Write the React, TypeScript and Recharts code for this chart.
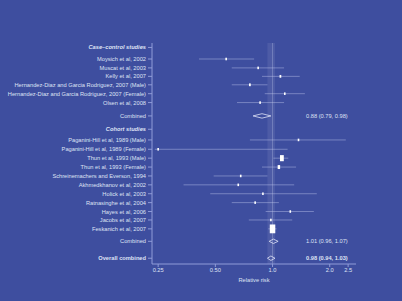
import React from "react";
import {
  ScatterChart,
  Scatter,
  XAxis,
  YAxis,
  ErrorBar,
  ReferenceLine,
  ReferenceArea,
} from "recharts";

// ---- data ----
const headerLabels = ["Case\u2013control studies", "Cohort studies"];
const headerRows = [0, 9.2];

const studyLabels = [
  "Moysich et al, 2002",
  "Muscat et al, 2003",
  "Kelly et al, 2007",
  "Hernandez-Diaz and Garcia Rodriguez, 2007 (Male)",
  "Hernandez-Diaz and Garcia Rodriguez, 2007 (Female)",
  "Olsen et al, 2008",
  "Paganini-Hill et al, 1989 (Male)",
  "Paganini-Hill et al, 1989 (Female)",
  "Thun et al, 1993 (Male)",
  "Thun et al, 1993 (Female)",
  "Schreinemachers and Everson, 1994",
  "Akhmedkhanov et al, 2002",
  "Holick et al, 2003",
  "Ratnasinghe et al, 2004",
  "Hayes et al, 2006",
  "Jacobs et al, 2007",
  "Feskanich et al, 2007",
];
const studyRows = [1.3, 2.3, 3.25, 4.2, 5.2, 6.2, 10.4, 11.45, 12.45, 13.45, 14.45, 15.45, 16.45, 17.45, 18.45, 19.4, 20.4];
const studyRR = [0.57, 0.84, 1.1, 0.76, 1.16, 0.86, 1.37, 0.25, 1.12, 1.08, 0.68, 0.66, 0.89, 0.81, 1.24, 0.98, 1.0];
const studyLow = [0.41, 0.61, 0.88, 0.61, 0.91, 0.65, 0.76, 0.24, 1.01, 0.88, 0.49, 0.34, 0.47, 0.61, 0.92, 0.75, 0.95];
const studyHigh = [0.8, 1.15, 1.39, 0.94, 1.48, 1.15, 2.43, 1.2, 1.21, 1.33, 0.94, 1.3, 1.71, 1.08, 1.65, 1.27, 1.05];
const studyWeight = [1.2, 1.5, 2.5, 2.5, 2.0, 1.5, 0.5, 0.4, 12, 5, 1.5, 0.4, 0.8, 2.0, 1.6, 1.2, 25];

const summaryLabels = ["Combined", "Combined", "Overall combined"];
const summaryRows = [7.7, 21.8, 23.7];
const summaryRR = [0.88, 1.01, 0.98];
const summaryLow = [0.79, 0.96, 0.94];
const summaryHigh = [0.98, 1.07, 1.03];

const xTicks = [0.25, 0.5, 1, 2, 2.5];
const xTickLabels = ["0.25", "0.50", "1.0", "2.0", "2.5"];
const xDomain = [0.232, 2.75];
const yDomain = [-0.5, 24.35];
const LABEL_X = 1.5;

// ---- styles ----
const BG = "#3e4e9f";
const TEXT = "#dfe3f4";
const AXIS = "#8f9bd8";
const FONT = "Liberation Sans, Arial, sans-serif";
const FS = 5.7;

const studyData = studyLabels.map((name, i) => ({
  name,
  x: studyRR[i],
  y: studyRows[i],
  err: [studyRR[i] - studyLow[i], studyHigh[i] - studyRR[i]],
  weight: studyWeight[i],
}));

const yLabelMap: { row: number; text: string; kind: string }[] = [
  ...headerLabels.map((t, i) => ({ row: headerRows[i], text: t, kind: "header" })),
  ...studyLabels.map((t, i) => ({ row: studyRows[i], text: t, kind: "study" })),
  ...summaryLabels.map((t, i) => ({
    row: summaryRows[i],
    text: t,
    kind: i === summaryLabels.length - 1 ? "overall" : "summary",
  })),
].sort((a, b) => a.row - b.row);

const yTicks = yLabelMap.map((d) => d.row);

const YTick = (props: any) => {
  const { x, y, payload } = props;
  const item = yLabelMap.find((d) => Math.abs(d.row - payload.value) < 1e-6);
  if (!item) return null;
  const bold = item.kind === "header" || item.kind === "overall";
  const italic = item.kind === "header";
  return (
    <text
      x={x}
      y={y}
      dy="0.35em"
      textAnchor="end"
      fill={TEXT}
      fontSize={FS}
      fontFamily={FONT}
      fontWeight={bold ? "bold" : "normal"}
      fontStyle={italic ? "italic" : "normal"}
    >
      {item.text}
    </text>
  );
};

const SquareShape = (props: any) => {
  const { cx, cy, payload } = props;
  const w = Math.max(1.6, 1.1 * Math.sqrt(payload.weight));
  const h = w * 1.6;
  return <rect x={cx - w / 2} y={cy - h / 2} width={w} height={h} fill="#ffffff" />;
};

const TextShape = (props: any) => {
  const { cx, cy, payload } = props;
  return (
    <text
      x={cx}
      y={cy}
      dy="0.35em"
      textAnchor="start"
      fill={TEXT}
      fontSize={FS}
      fontFamily={FONT}
      fontWeight={payload.bold ? "bold" : "normal"}
    >
      {payload.text}
    </text>
  );
};

const NoShape = () => <g />;

export default function App() {
  const summaryTextData = summaryRows.map((r, i) => ({
    x: LABEL_X,
    y: r,
    text: `${summaryRR[i].toFixed(2)} (${summaryLow[i].toFixed(2)}, ${summaryHigh[i].toFixed(2)})`,
    bold: i === summaryRows.length - 1,
  }));

  return (
    <div style={{ position: "absolute", left: 0, top: 0, width: 402, height: 301, background: BG }}>
      <ScatterChart width={402} height={301} margin={{ top: 43, right: 46, bottom: 0, left: 0 }}>
        <XAxis
          type="number"
          dataKey="x"
          scale="log"
          domain={xDomain}
          allowDataOverflow
          ticks={xTicks}
          interval={0}
          tickFormatter={(v: number) => xTickLabels[xTicks.indexOf(v)] ?? String(v)}
          tick={{ fill: TEXT, fontSize: FS, fontFamily: FONT }}
          stroke={AXIS}
          tickSize={3}
          tickMargin={1}
          height={37}
          label={{ value: "Relative risk", position: "insideBottom", offset: 19, fill: TEXT, fontSize: FS, fontFamily: FONT }}
        />
        <YAxis
          type="number"
          dataKey="y"
          reversed
          domain={yDomain}
          allowDataOverflow
          ticks={yTicks}
          interval={0}
          width={152}
          tick={<YTick />}
          stroke={AXIS}
          tickSize={4}
          tickMargin={2}
        />
        <ReferenceArea x1={0.94} x2={1.03} fill="#ffffff" fillOpacity={0.08} stroke="none" ifOverflow="hidden" />
        <ReferenceLine x={1} stroke="#c8cff0" strokeOpacity={0.3} strokeWidth={1} />
        <Scatter data={studyData} shape={<SquareShape />} isAnimationActive={false}>
          <ErrorBar dataKey="err" direction="x" width={0} stroke="#c3caee" strokeOpacity={0.55} strokeWidth={0.8} isAnimationActive={false} />
        </Scatter>
        {summaryRows.map((r, i) => (
          <Scatter
            key={`d${i}`}
            data={[
              { x: summaryLow[i], y: r },
              { x: summaryRR[i], y: r - 0.25 },
              { x: summaryHigh[i], y: r },
              { x: summaryRR[i], y: r + 0.25 },
              { x: summaryLow[i], y: r },
            ]}
            line={{ stroke: "#dfe3f7", strokeWidth: 0.8 }}
            lineType="joint"
            shape={<NoShape />}
            isAnimationActive={false}
          />
        ))}
        <Scatter data={summaryTextData} shape={<TextShape />} isAnimationActive={false} />
      </ScatterChart>
    </div>
  );
}
